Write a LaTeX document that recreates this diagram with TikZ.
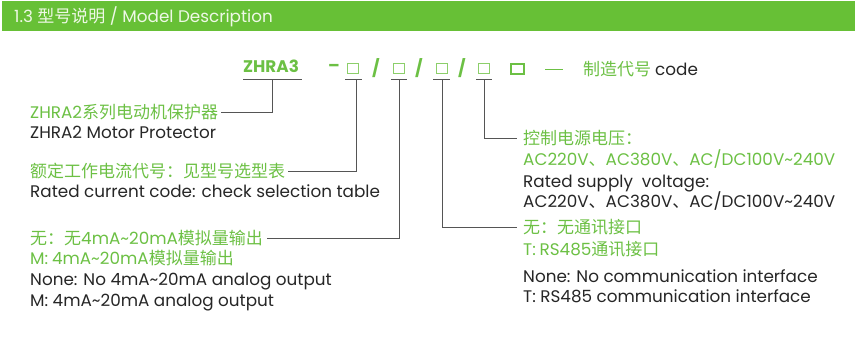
\documentclass[tikz,border=0pt]{standalone}
\usepackage{fontspec}
\setmainfont{Poppins}
\newfontfamily\cjkfont{Noto Sans CJK SC}
\newcommand\zh[1]{{\cjkfont\fontsize{17}{18}\selectfont #1}}
\newcommand\lat{\fontsize{16.8}{19}\selectfont}
\definecolor{grn}{HTML}{6CC044}
\definecolor{hdr}{HTML}{67C036}
\definecolor{hdrtxt}{HTML}{EEF8E6}
\definecolor{ink}{HTML}{262626}
\definecolor{linegray}{HTML}{555555}
\definecolor{sqgreen}{HTML}{8CCF6A}
\begin{document}
\begin{tikzpicture}[x=1pt,y=-1pt,
  txt/.style={anchor=base west, inner sep=0pt, font=\lat, text=ink},
  gtxt/.style={txt, text=grn},
  lead/.style={anchor=west, inner sep=0pt, text height=12pt, text depth=0pt, font=\lat, text=grn},
  conn/.style={draw=linegray, line width=0.8pt},
  sq/.style={draw=sqgreen, line width=0.8pt, minimum width=11pt, minimum height=10pt, inner sep=0pt},
  bigsq/.style={draw=grn, line width=2.4pt, minimum width=13pt, minimum height=10pt, inner sep=0pt},
  sym/.style={inner sep=0pt, text=grn, font=\lat\bfseries}]
\useasboundingbox (0,0) rectangle (856,337);
% header
\fill[hdr] (2,1) rectangle (855,31);
\node[txt, text=hdrtxt, anchor=base west] (title) at (14,23) {1.3 \zh{型号说明} / Model Description};
% code row
\node[txt, text=grn, font=\lat\bfseries] (zh3) at (243,72) {ZHRA3};
\node[sym] (dash) at (334,68) {–};
\node[sq] (s1) at (352.5,68.5) {};
\node[sym] (sl1) at (376,68) {/};
\node[sq] (s2) at (399,68.5) {};
\node[sym] (sl2) at (419,68) {/};
\node[sq] (s3) at (441.5,68.5) {};
\node[sym] (sl3) at (462,68) {/};
\node[sq] (s4) at (483.5,68.5) {};
\node[bigsq] (s5) at (517.5,69) {};
\node[inner sep=0pt, text=grn] (md) at (554,69.5) {\rule{18pt}{0.9pt}};
\node[txt, text=grn] (mfg) at (583,75) {\zh{制造代号}};
\node[txt] (cd) at (655,75) {code};
% underline anchors
\coordinate (u0) at (272,79);
\coordinate (u1) at (356,79);
\coordinate (u2) at (399,79);
\coordinate (u3) at (442,79);
\coordinate (u4) at (484,79);
\draw[conn] ([xshift=-29pt]u0) -- ([xshift=30pt]u0);
\draw[conn] ([xshift=-11pt]u1) -- ([xshift=6pt]u1);
\draw[conn] ([xshift=-8pt]u2) -- ([xshift=8pt]u2);
\draw[conn] ([xshift=-9pt]u3) -- ([xshift=8pt]u3);
\draw[conn] ([xshift=-8pt]u4) -- ([xshift=8pt]u4);
% left texts
\node[lead] (t1) at (30,112) {ZHRA2\zh{系列电动机保护器}};
\node[txt] (t1e) at (30,138) {ZHRA2 Motor Protector};
\node[lead] (t2) at (30,171) {\zh{额定工作电流代号：见型号选型表}};
\node[txt] (t2e) at (30,197) {Rated current code: check selection table};
\node[lead] (t3) at (30,238) {\zh{无：无}4mA\textasciitilde20mA\zh{模拟量输出}};
\node[gtxt] (t3b) at (30,264) {M:\zh{ }4mA\textasciitilde20mA\zh{模拟量输出}};
\node[txt] (t3e) at (30,285) {None: No 4mA\textasciitilde20mA analog output};
\node[txt] (t3f) at (30,306) {M: 4mA\textasciitilde20mA analog output};
% right texts
\node[lead] (t5) at (523,138) {\zh{控制电源电压：}};
\node[gtxt] (t5b) at (523,165) {AC220V\zh{、}AC380V\zh{、}AC/DC100V\textasciitilde240V};
\node[txt] (t5e) at (523,187) {Rated supply\ \ voltage:};
\node[txt] (t5f) at (523,207) {AC220V\zh{、}AC380V\zh{、}AC/DC100V\textasciitilde240V};
\node[lead] (t4) at (523,227) {\zh{无：无通讯接口}};
\node[gtxt] (t4b) at (523,255) {T:\zh{ }RS485\zh{通讯接口}};
\node[txt] (t4e) at (523,282) {None: No communication interface};
\node[txt] (t4f) at (523,302) {T: RS485 communication interface};
% connectors
\draw[conn] (u0) |- ([xshift=3pt]t1.east);
\draw[conn] (u1) |- ([xshift=3pt]t2.east);
\draw[conn] (u2) |- ([xshift=4pt]t3.east);
\draw[conn] (u3) |- ([xshift=-6pt]t4.west);
\draw[conn] (u4) |- ([xshift=-6pt]t5.west);
\end{tikzpicture}
\end{document}
